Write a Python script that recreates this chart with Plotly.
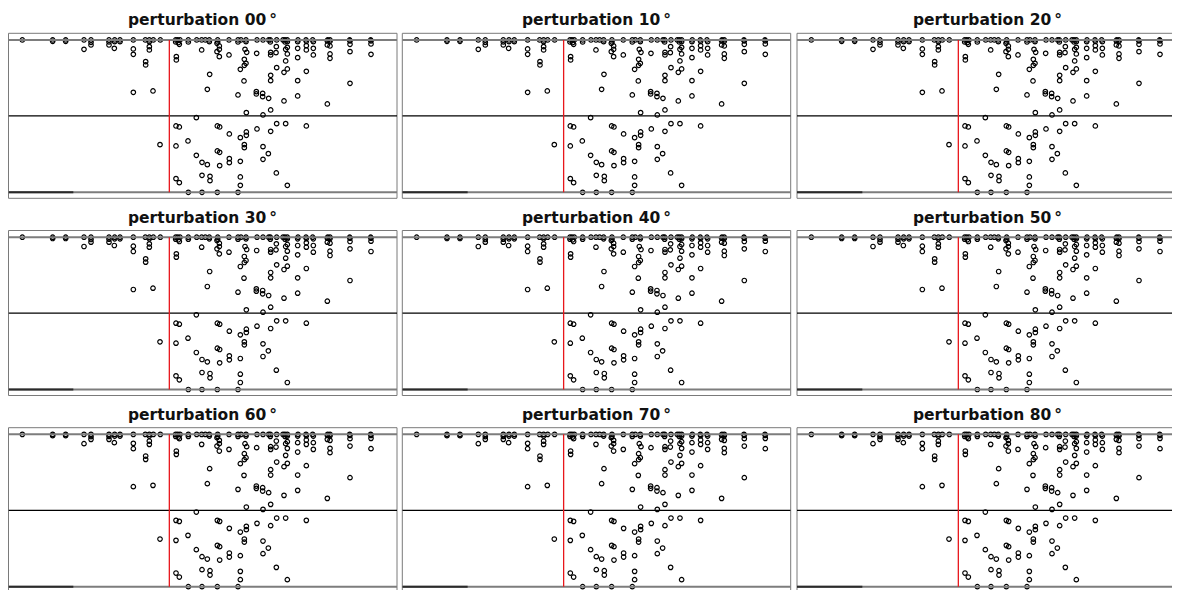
import plotly.graph_objects as go

# ---- data (shared by every panel) ----
perturbations = [0, 10, 20, 30, 40, 50, 60, 70, 80]

top_x = [67, 158, 197, 252, 273, 327, 344, 360, 400, 436, 448, 460, 481, 527, 533, 540, 565, 590, 605,
         616, 628, 653, 687, 714, 723, 738, 771, 789, 806, 811, 830, 849, 855, 862, 894, 918, 938, 983,
         990, 1049, 1112]
top_y = [120] * len(top_x)

near_x = [158, 197, 273, 327, 344, 360, 448, 527, 535, 565, 628, 653, 714, 738, 811, 855, 862, 893,
          919, 940, 982, 990, 1050, 1113]
near_y = [124, 124, 127, 126, 125, 125, 125, 126, 128, 126, 125, 126, 126, 125, 126, 126, 125, 125,
          124, 125, 123, 124, 123, 123]

upper_x = [273, 327, 343, 252, 538, 448, 448, 400, 400, 605, 651, 658, 658, 651, 658, 687, 529, 529,
           437, 437, 735, 740, 733, 738, 733, 721, 732, 770, 629, 622, 459, 400, 714, 769, 769, 788,
           788, 806, 739, 789, 589,
           829, 812, 812, 828, 862, 857, 862, 857, 830, 852, 862, 812, 812, 893, 893, 919, 919, 940,
           940, 919, 893, 893, 852, 812, 982, 990, 990, 990, 1050, 1050, 1113, 1113, 1050, 982]
upper_y = [135, 135, 145, 148, 133, 140, 150, 147, 163, 150, 130, 138, 148, 155, 170, 165, 170, 180,
           185, 195, 148, 157, 178, 190, 196, 208, 243, 160, 223, 268, 273, 277, 285, 275, 282, 280,
           290, 295, 338, 345, 353,
           140, 157, 165, 158, 142, 148, 162, 183, 203, 217, 207, 226, 242, 145, 173, 137, 150, 145,
           165, 214, 242, 288, 303, 330, 135, 138, 162, 175, 133, 155, 132, 163, 250, 312]

lower_x = [528, 538, 652, 659, 688, 721, 739, 739, 771, 480, 528, 564, 733, 733, 789, 805, 789, 589,
           606, 622, 652, 659, 688, 688, 721, 659, 528, 538, 606, 630, 630, 721, 721, 565, 606, 652,
           714, 830, 857, 812, 919, 829, 862]
lower_y = [378, 381, 378, 381, 402, 413, 396, 406, 387, 434, 438, 423, 434, 443, 440, 461, 478, 466,
           487, 494, 453, 457, 476, 488, 484, 497, 536, 548, 526, 529, 542, 531, 556, 577, 577, 577,
           577, 371, 371, 394, 378, 519, 556]

xs = top_x + near_x + upper_x + lower_x
ys = top_y + near_y + upper_y + lower_y

# reference levels
top_level = 120
mid_level = 348
bottom_level = 577
split_x = 508

# ---- layout geometry (pixels in the page; the page body adds an 8px margin) ----
OFF = 8
W, H = 1180 - OFF, 590 - OFF
col_left = [8, 402.3, 797]
col_right = [397, 790.7, 1178]
row_top = [33.3, 230.5, 427.7]
panel_h = 165
X0, Y0 = 24, 100  # data value at left/top edge of a panel
SCALE = 3.0        # data units per pixel

fig = go.Figure()
shapes = []
annotations = []

for i, p in enumerate(perturbations):
    r, c = divmod(i, 3)
    n = i + 1
    xa = "x" if n == 1 else f"x{n}"
    ya = "y" if n == 1 else f"y{n}"
    xl = "xaxis" if n == 1 else f"xaxis{n}"
    yl = "yaxis" if n == 1 else f"yaxis{n}"

    left = max(col_left[c] - OFF, 0.5)
    right = min(col_right[c] - OFF, W - 0.5)
    top = row_top[r] - OFF
    bot = min(top + panel_h, H)
    dx = [left / W, right / W]
    dy = [1 - bot / H, 1 - top / H]
    xstart = X0 + (left - (col_left[c] - OFF)) * SCALE
    xr = [xstart, xstart + (right - left) * SCALE]
    yr = [Y0 + (bot - top) * SCALE, Y0]

    ax_common = dict(showgrid=False, zeroline=False, showticklabels=False, ticks="",
                     showline=False, fixedrange=True)
    fig.update_layout({xl: dict(domain=dx, range=xr, anchor=ya, **ax_common),
                       yl: dict(domain=dy, range=yr, anchor=xa, **ax_common)})

    # box
    if top + panel_h <= H:
        shapes.append(dict(type="rect", xref=f"{xa} domain", yref=f"{ya} domain",
                           x0=0, x1=1, y0=0, y1=1, line=dict(color="#7a7a7a", width=1)))
    else:
        shapes.append(dict(type="path", xref=f"{xa} domain", yref=f"{ya} domain",
                           path="M 0,0 L 0,1 L 1,1 L 1,0", line=dict(color="#7a7a7a", width=1)))

    xmin, xmax = xr
    # horizontal reference lines
    shapes.append(dict(type="line", xref=xa, yref=ya, x0=xmin, x1=xmax, y0=top_level, y1=top_level,
                       line=dict(color="#7d7d7d", width=2)))
    shapes.append(dict(type="line", xref=xa, yref=ya, x0=xmin, x1=xmax, y0=mid_level, y1=mid_level,
                       line=dict(color="#000000", width=1.3)))
    shapes.append(dict(type="line", xref=xa, yref=ya, x0=xmin, x1=xmax, y0=bottom_level, y1=bottom_level,
                       line=dict(color="#7d7d7d", width=2)))
    shapes.append(dict(type="line", xref=xa, yref=ya, x0=xmin, x1=220, y0=bottom_level, y1=bottom_level,
                       line=dict(color="#2a2a2a", width=2)))
    # vertical split line
    shapes.append(dict(type="line", xref=xa, yref=ya, x0=split_x, x1=split_x, y0=top_level,
                       y1=bottom_level, line=dict(color="#e8161b", width=1.3)))

    fig.add_trace(go.Scatter(x=xs, y=ys, mode="markers", xaxis=xa, yaxis=ya, showlegend=False,
                             hoverinfo="skip",
                             marker=dict(symbol="circle-open", size=4.5, color="#000000",
                                         line=dict(width=1.2, color="#000000"))))

    cx = (col_left[c] + col_right[c]) / 2 - OFF
    annotations.append(dict(text=f"<b>perturbation {p:02d}\u2009\u00b0</b>", xref="paper", yref="paper",
                            x=cx / W, y=1 - (row_top[r] - OFF - 13) / H, showarrow=False,
                            xanchor="center", yanchor="middle",
                            font=dict(family="DejaVu Sans, sans-serif", size=15.5,
                                      color="#111111")))

fig.update_layout(width=W, height=H, margin=dict(l=0, r=0, t=0, b=0),
                  paper_bgcolor="white", plot_bgcolor="white",
                  shapes=shapes, annotations=annotations)

fig.write_html("out.html")
